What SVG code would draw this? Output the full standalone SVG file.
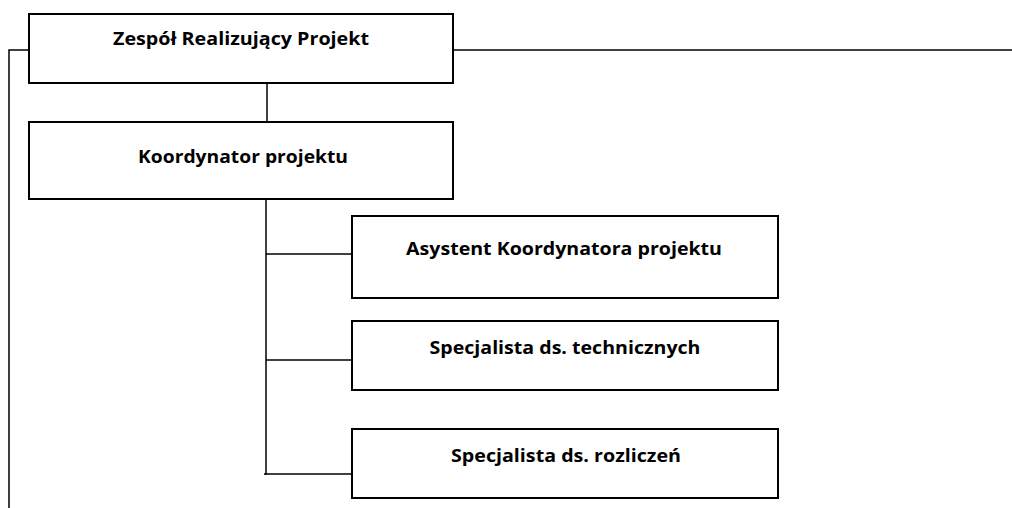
<svg xmlns="http://www.w3.org/2000/svg" width="1012" height="508" viewBox="0 0 1012 508">
<style>
.box{fill:#fff;stroke:#000;stroke-width:2}
.ln{fill:none;stroke:#000;stroke-width:1.5}
.t{font-family:"Open Sans","Liberation Sans",Arial,sans-serif;font-weight:bold;font-size:17px;fill:#000}
</style>
<rect width="1012" height="508" fill="#fff"/>
<g id="connectors">
<path class="ln" d="M9 508 V50 H29"/>
<path class="ln" d="M453 50 H1012"/>
<path class="ln" d="M267 83 V122"/>
<path class="ln" d="M266 199 V475"/>
<path class="ln" d="M266 254 H352"/>
<path class="ln" d="M266 360 H352"/>
<path class="ln" d="M264 474 H352"/>
</g>
<g id="n1"><rect class="box" x="29" y="14" width="424" height="69"/><text class="t" x="241" y="45" text-anchor="middle" textLength="256" lengthAdjust="spacingAndGlyphs">Zespół Realizujący Projekt</text></g>
<g id="n2"><rect class="box" x="29" y="122" width="424" height="77"/><text class="t" x="243" y="163" text-anchor="middle" textLength="210" lengthAdjust="spacingAndGlyphs">Koordynator projektu</text></g>
<g id="n3"><rect class="box" x="352" y="216" width="426" height="82"/><text class="t" x="564" y="255" text-anchor="middle" textLength="316" lengthAdjust="spacingAndGlyphs">Asystent Koordynatora projektu</text></g>
<g id="n4"><rect class="box" x="352" y="321" width="426" height="69"/><text class="t" x="565" y="354" text-anchor="middle" textLength="271" lengthAdjust="spacingAndGlyphs">Specjalista ds. technicznych</text></g>
<g id="n5"><rect class="box" x="352" y="429" width="426" height="69"/><text class="t" x="566" y="462" text-anchor="middle" textLength="230" lengthAdjust="spacingAndGlyphs">Specjalista ds. rozliczeń</text></g>
</svg>
